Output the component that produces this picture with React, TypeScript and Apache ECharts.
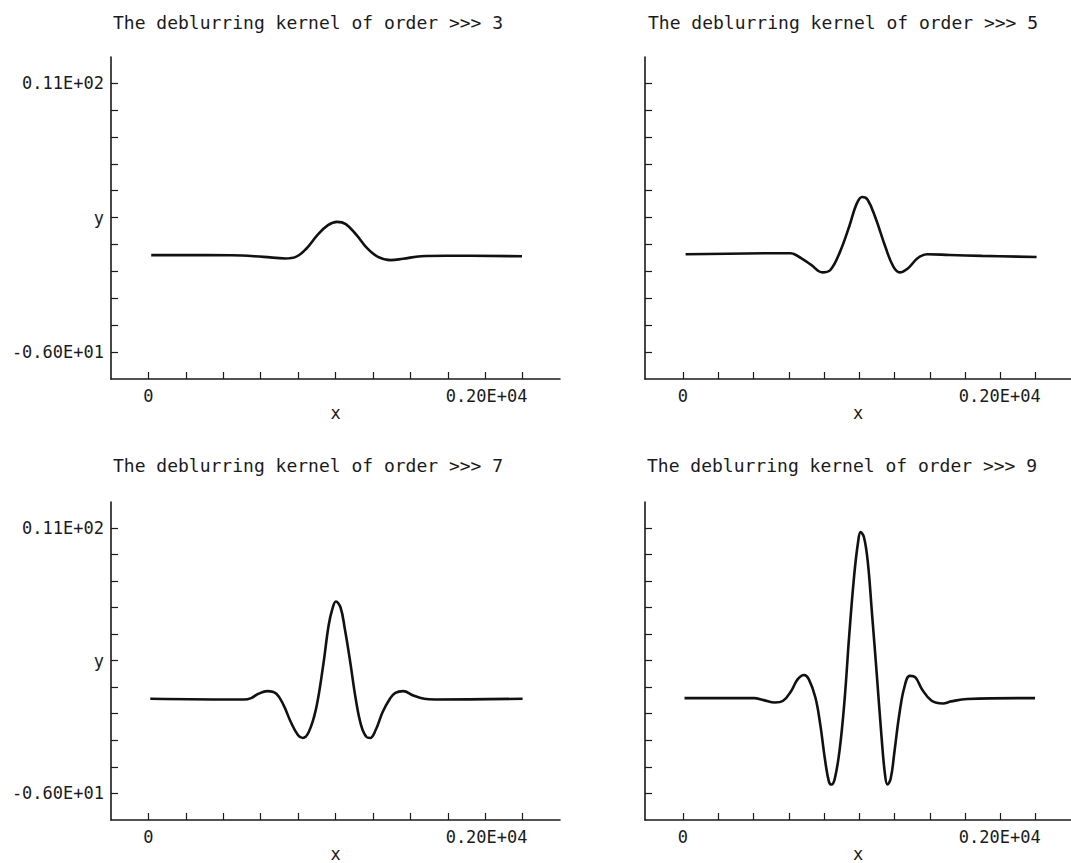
import React, { useEffect, useRef } from "react";
import * as echarts from "echarts";

const FONT = '"DejaVu Sans Mono", "Liberation Mono", monospace';
const INK = "#1a1a1a";

const titles = [
  "The deblurring kernel of order >>> 3",
  "The deblurring kernel of order >>> 5",
  "The deblurring kernel of order >>> 7",
  "The deblurring kernel of order >>> 9",
];

const xTicks = [0, 200, 400, 600, 800, 1000, 1200, 1400, 1600, 1800, 2000];
const xLabelValues = [0, 2000];
const yTicks = [-6, -4.3, -2.6, -0.9, 0.8, 2.5, 4.2, 5.9, 7.6, 9.3, 11];
const yLabelValues = [-6, 11];

const order3X = [15, 445, 616, 731, 788, 845, 903, 960, 1008, 1055, 1113, 1170, 1227, 1294, 1361, 1457, 1590, 1997];
const order3Y = [0.13, 0.12, 0.02, -0.08, 0.02, 0.55, 1.39, 2.02, 2.23, 2.09, 1.39, 0.55, 0.02, -0.19, -0.1, 0.06, 0.09, 0.06];

const order5X = [15, 581, 608, 672, 727, 791, 836, 891, 946, 983, 1016, 1047, 1092, 1147, 1193, 1229, 1275, 1330, 1384, 1512, 1695, 2005];
const order5Y = [0.18, 0.25, 0.25, -0.07, -0.49, -0.96, -0.81, 0.35, 2.05, 3.32, 3.8, 3.63, 2.47, 0.67, -0.6, -0.96, -0.71, -0.07, 0.18, 0.14, 0.08, 0.01];

const order7X = [10, 511, 549, 588, 636, 684, 723, 761, 800, 825, 857, 896, 934, 963, 983, 1002, 1027, 1050, 1079, 1108, 1137, 1166, 1185, 1214, 1252, 1291, 1320, 1362, 1416, 1474, 1532, 2000];
const order7Y = [0.06, 0.01, 0.1, 0.38, 0.55, 0.38, -0.37, -1.43, -2.28, -2.45, -2.07, -0.58, 2.18, 4.73, 5.79, 6.28, 5.9, 4.52, 2.39, 0.06, -1.64, -2.39, -2.45, -1.96, -0.79, 0.06, 0.44, 0.55, 0.27, 0.06, 0.01, 0.06];

const order9X = [9, 403, 458, 522, 568, 614, 650, 687, 714, 751, 778, 806, 828, 842, 861, 888, 916, 943, 971, 993, 1007, 1026, 1048, 1071, 1099, 1126, 1145, 1159, 1178, 1200, 1227, 1255, 1286, 1319, 1355, 1410, 1474, 1520, 1612, 1996];
const order9Y = [0.1, 0.1, -0.03, -0.18, -0.07, 0.56, 1.3, 1.58, 1.3, 0.14, -1.55, -3.88, -5.26, -5.43, -5.05, -3.25, -0.07, 4.16, 7.97, 10.09, 10.72, 10.41, 8.82, 5.64, 1.62, -2.4, -4.73, -5.43, -5.05, -3.25, -0.92, 0.78, 1.52, 1.41, 0.67, -0.07, -0.24, -0.11, 0.04, 0.1];

const seriesX = [order3X, order5X, order7X, order9X];
const seriesY = [order3Y, order5Y, order7Y, order9Y];

const grids = [
  { left: 111, top: 57, width: 449, height: 322 },
  { left: 645, top: 57, width: 441, height: 322 },
  { left: 111, top: 502, width: 449, height: 320 },
  { left: 645, top: 502, width: 441, height: 320 },
];
const xMins = [-200, -215, -200, -215];
const titlePos = [
  { left: 113, top: 13 },
  { left: 648, top: 13 },
  { left: 113, top: 456 },
  { left: 647, top: 456 },
];

export default function App() {
  const ref = useRef<HTMLDivElement>(null);
  useEffect(() => {
    if (!ref.current) return;
    const chart = echarts.init(ref.current, null, { renderer: "svg" });
    const showLabels = [true, false, true, false];
    const option: any = {
      animation: false,
      backgroundColor: "#ffffff",
      title: titles.map((t, i) => ({
        text: t,
        left: titlePos[i].left,
        top: titlePos[i].top,
        padding: 0,
        textStyle: { fontFamily: FONT, fontSize: 18, fontWeight: "normal", color: INK, lineHeight: 18 },
      })),
      grid: grids.map((g) => ({ ...g, containLabel: false })),
      xAxis: grids.map((_, i) => ({
        type: "value",
        gridIndex: i,
        min: xMins[i],
        max: 2200,
        name: "x",
        nameLocation: "middle",
        nameGap: 25,
        nameMoveOverlap: false,
        nameTextStyle: { fontFamily: FONT, fontSize: 17, color: INK },
        axisLine: { onZero: false, lineStyle: { color: INK, width: 1.6 } },
        axisTick: { inside: true, length: 7, customValues: xTicks, lineStyle: { color: INK, width: 1.2 } },
        axisLabel: {
          customValues: xLabelValues,
          margin: 8,
          fontFamily: FONT,
          fontSize: 17,
          color: INK,
          formatter: (v: number) => (v === 0 ? "0" : "{s|0.20E+04}"),
          rich: { s: { fontFamily: FONT, fontSize: 17, color: INK, padding: [0, 72, 0, 0] } },
        },
        splitLine: { show: false },
      })),
      yAxis: grids.map((_, i) => ({
        type: "value",
        gridIndex: i,
        min: -7.7,
        max: 12.65,
        name: showLabels[i] ? "y" : "",
        nameLocation: "middle",
        nameRotate: 0,
        nameGap: 7,
        nameMoveOverlap: false,
        nameTextStyle: { fontFamily: FONT, fontSize: 17, color: INK, align: "right", verticalAlign: "middle" },
        axisLine: { onZero: false, lineStyle: { color: INK, width: 1.6 } },
        axisTick: { inside: true, length: 7, customValues: yTicks, lineStyle: { color: INK, width: 1.2 } },
        axisLabel: {
          show: showLabels[i],
          customValues: yLabelValues,
          margin: 7,
          fontFamily: FONT,
          fontSize: 17,
          color: INK,
          formatter: (v: number) => (v === 11 ? "0.11E+02" : "-0.60E+01"),
        },
        splitLine: { show: false },
      })),
      series: seriesX.map((xs, i) => ({
        type: "line",
        xAxisIndex: i,
        yAxisIndex: i,
        showSymbol: false,
        smooth: 0.4,
        lineStyle: { color: "#111", width: 2.6 },
        data: xs.map((x, j) => [x, seriesY[i][j]]),
      })),
    };
    chart.setOption(option);
    return () => chart.dispose();
  }, []);
  return (
    <div
      ref={ref}
      style={{ position: "absolute", left: 0, top: 0, width: 1071, height: 863, background: "#fff" }}
    />
  );
}
